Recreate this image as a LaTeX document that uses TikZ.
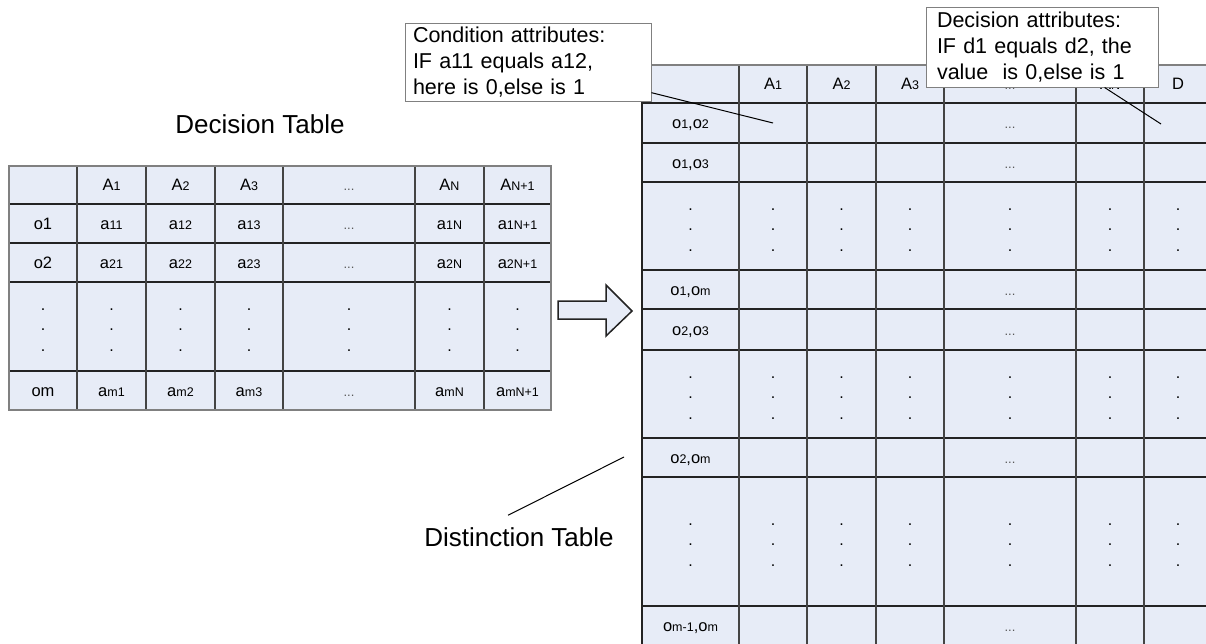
\documentclass[tikz,border=0pt]{standalone}
\usepackage{fontspec}
\setmainfont{Liberation Sans}
\definecolor{cellfill}{RGB}{231,236,247}
\definecolor{framegray}{RGB}{128,128,128}
\definecolor{linedark}{RGB}{35,35,35}
\newcommand{\ix}[1]{{\fontsize{12.5}{14}\selectfont #1}}   % small index after a letter
\newcommand{\skipcells}{{\fontsize{13}{15}\selectfont\color{black!65}...}}
\tikzset{
    cell/.style={anchor=base, inner sep=0pt, font=\fontsize{16.5}{19}\selectfont},
    vdots/.style={inner sep=0pt, align=center, font=\fontsize{16}{20.5}\selectfont},
    rowline/.style={draw=linedark, line width=2pt},
    colline/.style={draw=linedark!85, line width=1.5pt},
    frame/.style={draw=framegray, line width=2pt},
    callout/.style={draw=framegray, line width=1pt, fill=white, align=left, inner xsep=8pt, inner ysep=0pt, font=\fontsize{21.5}{26}\selectfont},
    title/.style={inner sep=2pt, font=\fontsize{26}{31}\selectfont},
    pointer/.style={draw=black, line width=1pt},
    blockarrow/.style={draw=linedark, line width=1.5pt, fill=cellfill, line join=miter}
    }

\begin{document}
\begin{tikzpicture}[x=1pt, y=-1pt]
	\useasboundingbox (0,0) rectangle (1206,643);

	% decision table
	\node[title] (dectitle) at (260,124.5) {Decision Table};
	\fill[cellfill] (9,166) rectangle (551,410);
	\foreach \y in {204,243,282,371} \draw[rowline] (9,\y) -- (551,\y);
	\foreach \x in {77,146,215,283,415,484} \draw[colline] (\x,166) -- (\x,410);
	\draw[frame] (9,166) rectangle (551,410);
	\foreach \cx/\head/\vone/\vtwo/\vm [count=\c] in {
		43/{}/o1/o2/om,
		111.5/A\ix{1}/a\ix{11}/a\ix{21}/a\ix{m1},
		180.5/A\ix{2}/a\ix{12}/a\ix{22}/a\ix{m2},
		249/A\ix{3}/a\ix{13}/a\ix{23}/a\ix{m3},
		349/\skipcells/\skipcells/\skipcells/\skipcells,
		449.5/A\ix{N}/a\ix{1N}/a\ix{2N}/a\ix{mN},
		517.5/A\ix{N+1}/a\ix{1N+1}/a\ix{2N+1}/a\ix{mN+1}}{
		\node[cell] (L-h-\c) at (\cx,190.9) {\head};
		\node[cell] (L-1-\c) at (\cx,229.4) {\vone};
		\node[cell] (L-2-\c) at (\cx,268.4) {\vtwo};
		\node[vdots] (L-v-\c) at (\cx,330) {.\\.\\.};
		\node[cell] (L-m-\c) at (\cx,396.4) {\vm};
	}

	\draw[blockarrow] (558,301) -- (606,301) -- (606,285) -- (632,311) -- (606,336) -- (606,319) -- (558,319) -- cycle;

	% distinction table
	\fill[cellfill] (642,65) rectangle (1212,645);
	\foreach \y in {103,143,182,270,309,350,438,477,606} \draw[rowline] (642,\y) -- (1212,\y);
	\foreach \x in {739,807,876,944,1076,1144} \draw[colline] (\x,65) -- (\x,645);
	\draw[frame] (642,65) rectangle (1212,645);
	\draw[rowline] (642,65) -- (642,645);
	\foreach \cx/\head [count=\c] in {773/A\ix{1}, 841.5/A\ix{2}, 910/A\ix{3}, 1010/\skipcells, 1110/A\ix{N}, 1178/D}
		\node[cell] (R-h-\c) at (\cx,89.9) {\head};
	\foreach \cy/\lab [count=\r] in {123/{o\ix{1},o\ix{2}}, 162.5/{o\ix{1},o\ix{3}}, 289.5/{o\ix{1},o\ix{m}},
			329.5/{o\ix{2},o\ix{3}}, 457.5/{o\ix{2},o\ix{m}}, 625.5/{o\ix{m-1},o\ix{m}}}{
		\node[cell] (R-\r-1) at (690.5,\cy+5.9) {\lab};
		\node[cell] (R-\r-5) at (1010,\cy+5.9) {\skipcells};
	}
	\foreach \cy [count=\r] in {230,398,545}
		\foreach \cx [count=\c] in {690.5,773,841.5,910,1010,1110,1178}
			\node[vdots] (R-v\r-\c) at (\cx,\cy) {.\\.\\.};
	\node[title] (dist) at (519,537) {Distinction Table};

	% callouts
	\node[callout, text width=230pt, minimum height=78pt] (cond) at (528,62)
		{Condition attributes:\\IF a11 equals a12,\\here is 0,else is 1};
	\node[callout, text width=210pt, inner xsep=11pt, minimum height=80pt] (dec) at (1042,47)
		{Decision attributes:\\IF d1 equals d2, the\\value\ \ is 0,else is 1};
	\coordinate (condtip) at (773,123);
	\coordinate (dectip) at (1161,124);
	\coordinate (disttip) at (624,457);
	\draw[pointer] (cond) -- (condtip);
	\draw[pointer] (dec) -- (dectip);
	\draw[pointer] ([shift={(-11,-10)}]dist.north) -- (disttip);
\end{tikzpicture}
\end{document}
